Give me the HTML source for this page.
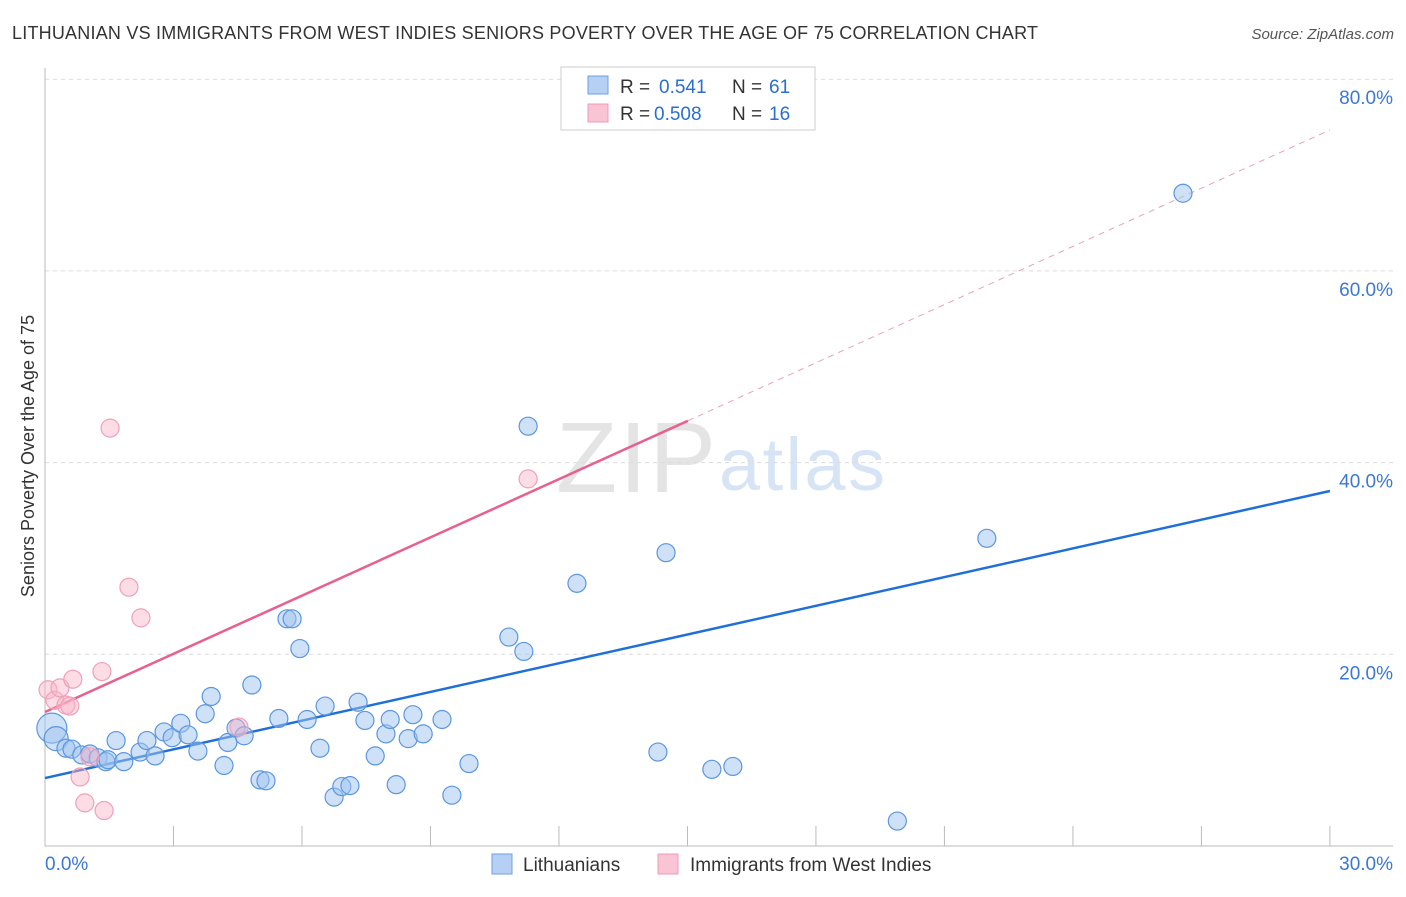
<!DOCTYPE html>
<html><head><meta charset="utf-8"><style>
body{margin:0;background:#fff;font-family:"Liberation Sans",sans-serif}
svg text{font-family:"Liberation Sans",sans-serif}
</style></head><body>
<svg id="c" width="1406" height="892">
<text x="12" y="39" font-size="18" fill="#333" textLength="1026">LITHUANIAN VS IMMIGRANTS FROM WEST INDIES SENIORS POVERTY OVER THE AGE OF 75 CORRELATION CHART</text>
<text x="1394" y="39" font-size="15" fill="#555" font-style="italic" text-anchor="end">Source: ZipAtlas.com</text>
<text x="716" y="492" font-size="100" fill="#e4e4e4" text-anchor="end" font-family="Liberation Serif" textLength="160">ZIP</text>
<text x="719" y="490" font-size="74" fill="#d6e4f6" textLength="166">atlas</text>
<text transform="translate(34,456) rotate(-90)" font-size="18" fill="#333" text-anchor="middle">Seniors Poverty Over the Age of 75</text>
<g id="grid"></g><g id="lines"></g><g id="pts"></g>
<g>
<rect x="561" y="67" width="254" height="63" fill="#fff" stroke="#ccc"/>
<rect x="588" y="76" width="20" height="18" fill="#b5d0f4" stroke="#6aa0e0"/>
<text y="93" font-size="19" fill="#333"><tspan x="620">R =</tspan><tspan x="659" fill="#2a6fd0">0.541</tspan><tspan x="732">N =</tspan><tspan x="769" fill="#2a6fd0">61</tspan></text>
<rect x="588" y="104" width="20" height="18" fill="#f9c4d4" stroke="#f09ab6"/>
<text y="120" font-size="19" fill="#333"><tspan x="620">R =</tspan><tspan x="654" fill="#2a6fd0">0.508</tspan><tspan x="732">N =</tspan><tspan x="769" fill="#2a6fd0">16</tspan></text>
</g>
<g>
<rect x="492" y="854" width="20" height="20" fill="#b5d0f4" stroke="#6aa0e0"/>
<text x="523" y="871" font-size="19" fill="#333">Lithuanians</text>
<rect x="658" y="854" width="20" height="20" fill="#f9c4d4" stroke="#f09ab6"/>
<text x="690" y="871" font-size="19" fill="#333">Immigrants from West Indies</text>
</g>
</svg>
<script>
const yTicks=[20,40,60,80];
const xTickLabels=["0.0%","30.0%"];
const blueX=[0.16,0.26,0.49,0.63,0.86,1.05,1.24,1.42,1.47,1.66,1.84,2.22,2.38,2.57,2.78,2.97,3.17,3.34,3.57,3.74,3.88,4.18,4.27,4.46,4.65,4.83,5.02,5.16,5.46,5.65,5.77,5.95,6.12,6.42,6.54,6.75,6.93,7.12,7.31,7.47,7.71,7.96,8.06,8.20,8.48,8.59,8.83,9.27,9.50,9.90,10.83,11.18,11.28,12.42,14.31,14.50,15.57,16.06,19.90,21.99,26.57];
const blueY=[12.3,11.2,10.2,10.1,9.5,9.6,9.2,8.8,9.0,11.0,8.8,9.8,11.0,9.4,11.9,11.3,12.8,11.6,9.9,13.8,15.6,8.4,10.8,12.3,11.5,16.8,6.9,6.8,13.3,23.7,23.7,20.6,13.2,10.2,14.6,5.1,6.2,6.3,15.0,13.1,9.4,11.7,13.2,6.4,11.2,13.7,11.7,13.2,5.3,8.6,21.8,20.3,43.8,27.4,9.8,30.6,8.0,8.3,2.6,32.1,68.1];
const pinkX=[0.07,0.23,0.35,0.49,0.58,0.65,0.82,0.93,1.05,1.33,1.38,1.52,1.96,2.24,4.53,11.28];
const pinkY=[16.3,15.2,16.5,14.7,14.6,17.4,7.2,4.5,9.3,18.2,3.7,43.6,27.0,23.8,12.4,38.3];
const blueTrend=[7.09,37.04], pinkTrend=[13.98,74.7], pinkSolidEnd=15.01;
const X=v=>45+v*42.83, Y=v=>846-v*9.585;
const NS="http://www.w3.org/2000/svg";
function mk(tag,attrs,parent){const e=document.createElementNS(NS,tag);for(const k in attrs)e.setAttribute(k,attrs[k]);parent.appendChild(e);return e;}
const grid=document.getElementById('grid'),lines=document.getElementById('lines'),pts=document.getElementById('pts');
yTicks.forEach(t=>{
 const l=mk('line',{x1:45,x2:1393,y1:Y(t),y2:Y(t),stroke:'#dcdcdc','stroke-dasharray':'4,4'},grid);
 
 
 const tx=mk('text',{x:1393,y:Y(t)+25,'font-size':19,fill:'#3a78d4','text-anchor':'end'},grid);
 tx.textContent=t.toFixed(1)+'%';
 
 
});
const ax=mk('path',{d:'M45 68V846H1393',fill:'none',stroke:'#bbb'},grid);


for(let i=0;i<=10;i++){const t=mk('line',{x1:X(i*3),x2:X(i*3),y1:826,y2:846,stroke:'#bbb'},grid);
 
 }
[[0,'start',45],[30,'end',1393]].forEach((a,i)=>{const t=mk('text',{x:a[2],y:870,'font-size':19,fill:'#3a78d4','text-anchor':a[1]},grid);t.textContent=xTickLabels[i];
 
 });
const pd=(pinkTrend[1]-pinkTrend[0])/30;
let l1=mk('line',{x1:X(0),y1:Y(blueTrend[0]),x2:X(30),y2:Y(blueTrend[1]),stroke:'#1f6fd8','stroke-width':2.5},lines);


let l2=mk('line',{x1:X(0),y1:Y(pinkTrend[0]),x2:X(pinkSolidEnd),y2:Y(pinkTrend[0]+pd*pinkSolidEnd),stroke:'#e8608c','stroke-width':2.5},lines);


let l3=mk('line',{x1:X(pinkSolidEnd),y1:Y(pinkTrend[0]+pd*pinkSolidEnd),x2:X(30),y2:Y(pinkTrend[1]),stroke:'#eaa0b8','stroke-width':1,'stroke-dasharray':'6,5'},lines);


blueX.forEach((x,i)=>{const c=mk('circle',{cx:X(x),cy:Y(blueY[i]),r:i==0?15:i==1?12:9,fill:'rgba(160,196,240,0.5)',stroke:'#5b96e0','stroke-width':1.2},pts);
 
 });
pinkX.forEach((x,i)=>{const c=mk('circle',{cx:X(x),cy:Y(pinkY[i]),r:9,fill:'rgba(248,180,200,0.45)',stroke:'#f0a0b8','stroke-width':1.2},pts);
 
 });
</script>
</body></html>
